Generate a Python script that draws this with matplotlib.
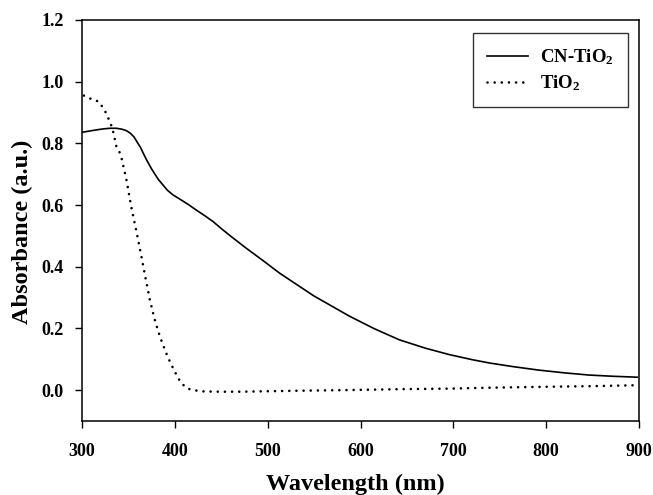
import matplotlib
matplotlib.use("Agg")
import matplotlib.pyplot as plt

plt.rcParams['font.family'] = ['Liberation Serif', 'DejaVu Serif']
plt.rcParams['font.weight'] = 'bold'
plt.rcParams['mathtext.fontset'] = 'custom'
plt.rcParams['mathtext.rm'] = 'Liberation Serif:bold'
plt.rcParams['mathtext.bf'] = 'Liberation Serif:bold'
plt.rcParams['mathtext.default'] = 'bf'

# CN-TiO2 (solid)
cn_wl = [300, 308, 316, 323, 330, 337, 343, 348, 352, 356, 359, 363, 366, 370, 375, 382,
         387, 392, 398, 405, 414, 423, 432, 441, 450, 459, 468, 477, 495, 513, 534,
         550, 567, 588, 615, 642, 670, 696, 720, 739, 765, 792, 820, 846, 872, 898]
cn_abs = [0.836, 0.840, 0.844, 0.847, 0.849, 0.849, 0.846, 0.841, 0.833, 0.821, 0.806,
          0.787, 0.768, 0.744, 0.717, 0.684, 0.666, 0.648, 0.633, 0.620, 0.603, 0.584,
          0.566, 0.547, 0.524, 0.502, 0.481, 0.460, 0.420, 0.379, 0.337, 0.305, 0.276,
          0.240, 0.199, 0.163, 0.136, 0.115, 0.099, 0.088, 0.076, 0.065, 0.056, 0.049,
          0.045, 0.042]

# TiO2 (dotted)
ti_wl = [302, 306, 311, 318, 322, 326, 329, 332, 334, 337, 341, 343, 348, 353, 359, 364,
         368, 373, 378, 384, 390, 395, 402, 406, 411, 415, 420, 430, 448, 470, 491,
         530, 580, 640, 696, 740, 800, 850, 898]
ti_abs = [0.955, 0.950, 0.942, 0.936, 0.918, 0.898, 0.877, 0.855, 0.833, 0.79, 0.768,
          0.747, 0.68, 0.595, 0.509, 0.433, 0.37, 0.294, 0.232, 0.173, 0.125, 0.09,
          0.048, 0.027, 0.011, 0.004, 0.0, -0.004, -0.005, -0.005, -0.004, -0.002,
          0.0, 0.003, 0.005, 0.008, 0.011, 0.013, 0.016]

x_ticks = [300, 400, 500, 600, 700, 800, 900]
y_ticks = [0.0, 0.2, 0.4, 0.6, 0.8, 1.0, 1.2]

fig = plt.figure(figsize=(6.53, 4.95), dpi=100)
ax = fig.add_axes([82/653, 1-421/495, (639-82)/653, (421-20)/495])

ax.plot(cn_wl, cn_abs, color='black', lw=1.2, label='CN-TiO$_2$')
ax.plot(ti_wl, ti_abs, color='black', lw=1.9, linestyle=(0, (0.01, 2.7)),
        dash_capstyle='round', label='TiO$_2$')

ax.set_xlim(300, 900)
ax.set_ylim(-0.1, 1.2)
ax.set_xticks(x_ticks)
ax.set_xticklabels([str(v) for v in x_ticks])
ax.set_yticks(y_ticks)
ax.set_yticklabels([f"{v:.1f}" for v in y_ticks])
ax.tick_params(direction='out', length=5, width=1.0, labelsize=13,
               top=False, right=False)
ax.tick_params(axis='x', pad=11)
ax.tick_params(axis='y', pad=8)
for lbl in ax.get_xticklabels() + ax.get_yticklabels():
    lbl.set_fontweight('bold')
for s in ax.spines.values():
    s.set_linewidth(1.1)

ax.set_xlabel('Wavelength (nm)', fontsize=17.5, fontweight='bold')
ax.set_ylabel('Absorbance (a.u.)', fontsize=17.5, fontweight='bold')
ax.xaxis.set_label_coords(0.49, -(474 - 421) / 401)
ax.yaxis.set_label_coords((33 - 82) / 557, (421 - 232) / 401)

leg = ax.legend(loc='upper right', bbox_to_anchor=(628/653, 1-33/495),
                bbox_transform=fig.transFigure, fontsize=13.5, frameon=True,
                fancybox=False, edgecolor='black', handlelength=2.2,
                borderpad=0.75, labelspacing=0.34, handletextpad=0.65,
                borderaxespad=0)
leg.get_frame().set_linewidth(1.0)
for t in leg.get_texts():
    t.set_fontweight('bold')

fig.savefig('out.png', dpi=100)
